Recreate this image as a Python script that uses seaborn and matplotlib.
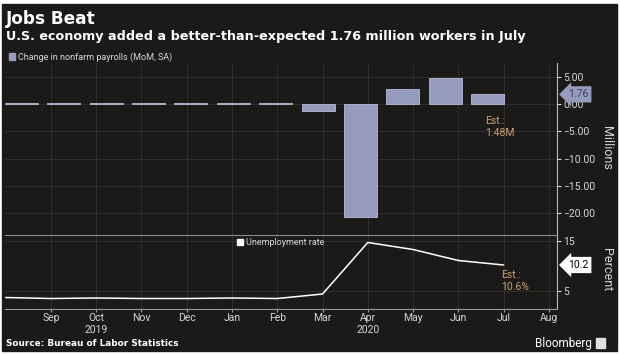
import numpy as np
import pandas as pd
import seaborn as sns
import matplotlib.pyplot as plt
import matplotlib.transforms as mtransforms
from matplotlib.patches import Patch, Rectangle
from matplotlib.ticker import StrMethodFormatter

# monthly data, Aug 2019 - Jul 2020
months = ["Aug 2019", "Sep 2019", "Oct 2019", "Nov 2019", "Dec 2019", "Jan 2020",
          "Feb 2020", "Mar 2020", "Apr 2020", "May 2020", "Jun 2020", "Jul 2020"]
payrolls = [0.21, 0.21, 0.19, 0.26, 0.18, 0.21, 0.25, -1.37, -20.79, 2.73, 4.78, 1.76]  # millions
unemp = [3.7, 3.5, 3.6, 3.5, 3.5, 3.6, 3.5, 4.4, 14.7, 13.3, 11.1, 10.2]  # percent

month_ticks = ["Sep", "Oct\n2019", "Nov", "Dec", "Jan", "Feb", "Mar", "Apr\n2020",
               "May", "Jun", "Jul", "Aug"]
payroll_ticks = [5, 0, -5, -10, -15, -20]
unemp_ticks = [5, 15]
est_payrolls = "1.48M"
est_unemp = "10.6%"

bg = "#1c1a18"
grid_c = "#35322f"
fg = "#d6d6d6"
bar_c = "#959bbd"
est_c = "#c9a36f"

sns.set_style("dark")
plt.rcParams["font.family"] = ["Roboto", "DejaVu Sans"]

df = pd.DataFrame({"month": months, "payrolls": payrolls, "unemp": unemp})

fig = plt.figure(figsize=(6.2, 3.55), dpi=100, facecolor="white")
fig.patches.append(Rectangle((2 / 620, 4 / 355), 615 / 620, 347 / 355,
                             transform=fig.transFigure, color=bg, zorder=-10))

ax1 = fig.add_axes([5 / 620, 1 - 235 / 355, 552 / 620, 172 / 355])
ax2 = fig.add_axes([5 / 620, 1 - 309 / 355, 552 / 620, 74 / 355])

sns.barplot(data=df, x="month", y="payrolls", color=bar_c, saturation=1,
            width=0.78, edgecolor="#b9bcd6", linewidth=0.6, ax=ax1)
sns.lineplot(x=np.arange(len(df)), y=df["unemp"], color="white", lw=1.1, ax=ax2)

# the bars and the line don't sit on the same month grid in the original
xt = (-0.39, 12.64)
xb = (-0.015, 12.18)
ax1.set_xlim(xt)
ax1.set_ylim(-24.0, 7.5)
ax2.set_xlim(xb)
ax2.set_ylim(1.4, 16.2)

pos = np.arange(1, 13)
ax2.set_xticks(pos, month_ticks)
top_pos = xt[0] + (pos - xb[0]) / (xb[1] - xb[0]) * (xt[1] - xt[0])
ax1.set_xticks(top_pos)
ax1.tick_params(axis="x", length=0, labelbottom=False)

for ax in (ax1, ax2):
    ax.set_facecolor(bg)
    ax.grid(True, color=grid_c, lw=0.6)
    ax.set_axisbelow(True)
    ax.set_xlabel("")
    ax.set_ylabel("")
    ax.yaxis.tick_right()
    ax.tick_params(axis="y", right=True, length=3, color=fg, labelcolor=fg,
                   labelsize=7.5, pad=1.5)
    for s in ax.spines.values():
        s.set_visible(False)
    ax.spines["right"].set_visible(True)
    ax.spines["right"].set_color("#bdbdbd")
    ax.spines["right"].set_linewidth(0.8)

ax1.set_yticks(payroll_ticks)
ax1.yaxis.set_major_formatter(StrMethodFormatter("{x:.2f}"))
ax2.set_yticks(unemp_ticks)

ax2.spines["top"].set_visible(True)
ax2.spines["top"].set_color("#8a8a8a")
ax2.spines["top"].set_linewidth(0.8)
ax2.spines["bottom"].set_visible(True)
ax2.spines["bottom"].set_color("#9a9a9a")
ax2.spines["bottom"].set_linewidth(0.8)
ax2.tick_params(axis="x", bottom=True, length=2, color="#9a9a9a",
                labelcolor=fg, labelsize=7.5, pad=1)

# legends
ax1.legend(handles=[Patch(color=bar_c, label="Change in nonfarm payrolls (MoM, SA)")],
           loc="lower left", bbox_to_anchor=(0.005, 1.0), frameon=False,
           fontsize=6.5, labelcolor=fg, handlelength=0.7, handleheight=0.7,
           handletextpad=0.3, borderpad=0.15, borderaxespad=0)
ax2.legend(handles=[Patch(color="white", label="Unemployment rate")],
           loc="upper left", bbox_to_anchor=(0.418, 0.98), frameon=False,
           fontsize=6.5, labelcolor=fg, handlelength=0.7, handleheight=0.7,
           handletextpad=0.3, borderpad=0.15, borderaxespad=0)

# estimates
ax1.text(10.95, -4.2, "Est.:\n" + est_payrolls, color=est_c, fontsize=7.5,
         ha="left", va="center", linespacing=1.25)
ax2.text(10.95, 6.9, "Est.:\n" + est_unemp, color=est_c, fontsize=7.5,
         ha="left", va="center", linespacing=1.25)

# last value tags on the axis
tr1 = mtransforms.blended_transform_factory(ax1.transAxes, ax1.transData)
ax1.text(1.02, payrolls[-1], f"{payrolls[-1]:.2f}", transform=tr1, fontsize=7.5,
         color="#3b3f5c", ha="left", va="center",
         bbox=dict(boxstyle="larrow,pad=0.3", fc=bar_c, ec="none"))
tr2 = mtransforms.blended_transform_factory(ax2.transAxes, ax2.transData)
ax2.text(1.02, unemp[-1], f"{unemp[-1]:.1f}", transform=tr2, fontsize=7.5,
         color="black", ha="left", va="center",
         bbox=dict(boxstyle="larrow,pad=0.3", fc="white", ec="none"))

fig.text(607 / 620, 1 - 148 / 355, "Millions", rotation=270, color=fg,
         fontsize=9, ha="center", va="center")
fig.text(607 / 620, 1 - 270 / 355, "Percent", rotation=270, color=fg,
         fontsize=9, ha="center", va="center")

# titles and footer
fig.text(6 / 620, 1 - 18.5 / 355, "Jobs Beat", color="white", fontsize=12.2,
         weight="bold", family="DejaVu Sans", ha="left", va="center")
fig.text(6 / 620, 1 - 36.5 / 355,
         "U.S. economy added a better-than-expected 1.76 million workers in July",
         color="white", fontsize=9.2, weight="bold", family="DejaVu Sans",
         ha="left", va="center")
fig.text(6 / 620, 1 - 343 / 355, "Source: Bureau of Labor Statistics",
         color="white", fontsize=6.4, weight="bold", family="DejaVu Sans",
         ha="left", va="center")
fig.text(592 / 620, 1 - 343 / 355, "Bloomberg", color="white", fontsize=8.5,
         ha="right", va="center")
fig.patches.append(Rectangle((596 / 620, 1 - 348 / 355), 9 / 620, 10 / 355,
                             transform=fig.transFigure, color="#e0e0e0", zorder=5))

fig.savefig("out.png", dpi=100, facecolor="white")
